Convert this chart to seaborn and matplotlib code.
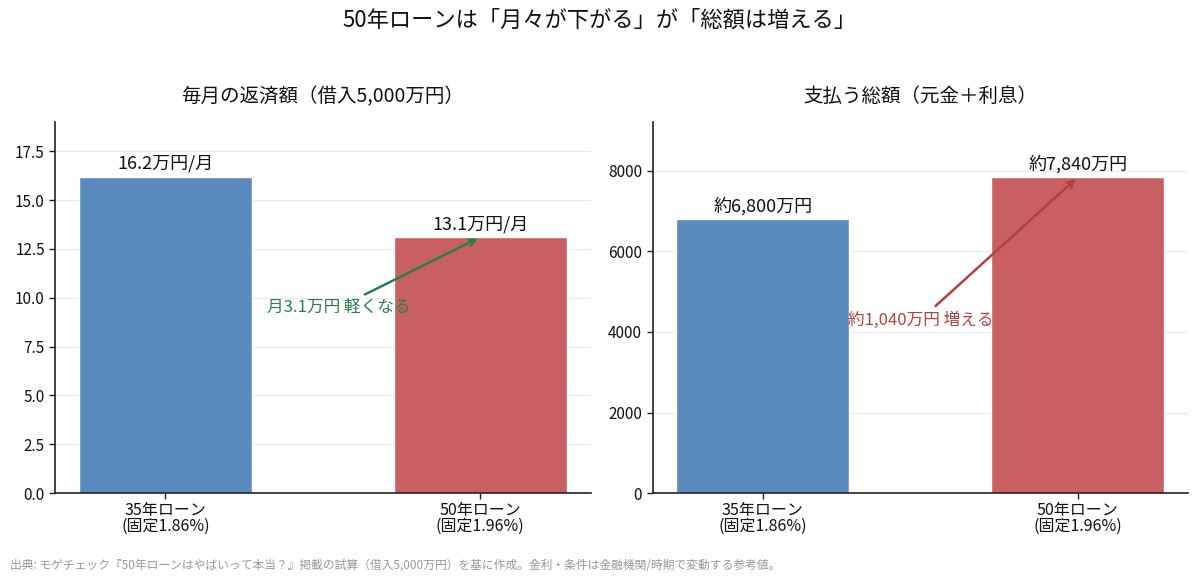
import matplotlib
matplotlib.use("Agg")
import matplotlib.pyplot as plt
import seaborn as sns
import pandas as pd

# ---- data ----
categories = ["35年ローン\n(固定1.86%)", "50年ローン\n(固定1.96%)"]
monthly = [16.2, 13.1]
monthly_labels = ["16.2万円/月", "13.1万円/月"]
total = [6800, 7840]
total_labels = ["約6,800万円", "約7,840万円"]
monthly_note = "月3.1万円 軽くなる"
total_note = "約1,040万円 増える"
suptitle = "50年ローンは「月々が下がる」が「総額は増える」"
title_left = "毎月の返済額（借入5,000万円）"
title_right = "支払う総額（元金＋利息）"
footnote = "出典: モゲチェック『50年ローンはやばいって本当？』掲載の試算（借入5,000万円）を基に作成。金利・条件は金融機関/時期で変動する参考値。"

sns.set_theme(style="white")
plt.rcParams["font.family"] = ["Noto Sans CJK JP", "DejaVu Sans"]
plt.rcParams["text.color"] = "#111111"
plt.rcParams["xtick.color"] = "#111111"
plt.rcParams["ytick.color"] = "#111111"

colors = ["#5B8BBE", "#C85F63"]
palette = dict(zip(categories, colors))

fig, axes = plt.subplots(1, 2, figsize=(12, 5.83), dpi=100)
fig.subplots_adjust(left=0.046, right=0.99, top=0.791, bottom=0.154, wspace=0.116)

df_m = pd.DataFrame({"cat": categories, "val": monthly})
df_t = pd.DataFrame({"cat": categories, "val": total})

specs = [
    (axes[0], df_m, monthly_labels, title_left, 19.0, monthly_note, (0.55, 9.5), "#2E7D4F"),
    (axes[1], df_t, total_labels, title_right, 9210, total_note, (0.5, 4300), "#B5403F"),
]

for ax, df, labels, title, ymax, note, xytext, ncol in specs:
    sns.barplot(data=df, x="cat", y="val", hue="cat", palette=palette,
                width=0.55, ax=ax, legend=False, saturation=1)
    ax.set_xlim(-0.35, 1.35)
    ax.set_ylim(0, ymax)
    ax.set_xlabel("")
    ax.set_ylabel("")
    ax.set_title(title, fontsize=14, pad=14)
    ax.yaxis.grid(True, color="#EBEBEB", linewidth=0.8)
    ax.set_axisbelow(True)
    for s in ["top", "right"]:
        ax.spines[s].set_visible(False)
    for s in ["left", "bottom"]:
        ax.spines[s].set_color("#222222")
        ax.spines[s].set_linewidth(1.2)
    ax.tick_params(axis="both", labelsize=11, length=4, width=1, color="#222222",
                   left=True, bottom=True)
    ax.tick_params(axis="x", labelsize=11.5, pad=2)
    for t in ax.get_xticklabels():
        t.set_linespacing(0.95)
    for i, (v, lab) in enumerate(zip(df["val"], labels)):
        ax.text(i, v + ymax * 0.01, lab, ha="center", va="bottom", fontsize=13)
    ax.annotate(note, xy=(1, df["val"].iloc[1]), xytext=xytext,
                ha="center", va="center", fontsize=12, color=ncol,
                arrowprops=dict(arrowstyle="->", color=ncol, lw=1.8))

fig.suptitle(suptitle, fontsize=16, y=0.985)
fig.text(0.008, 0.03, footnote, fontsize=8.5, color="#999999", ha="left", va="center")

fig.savefig("out.png", dpi=100)
